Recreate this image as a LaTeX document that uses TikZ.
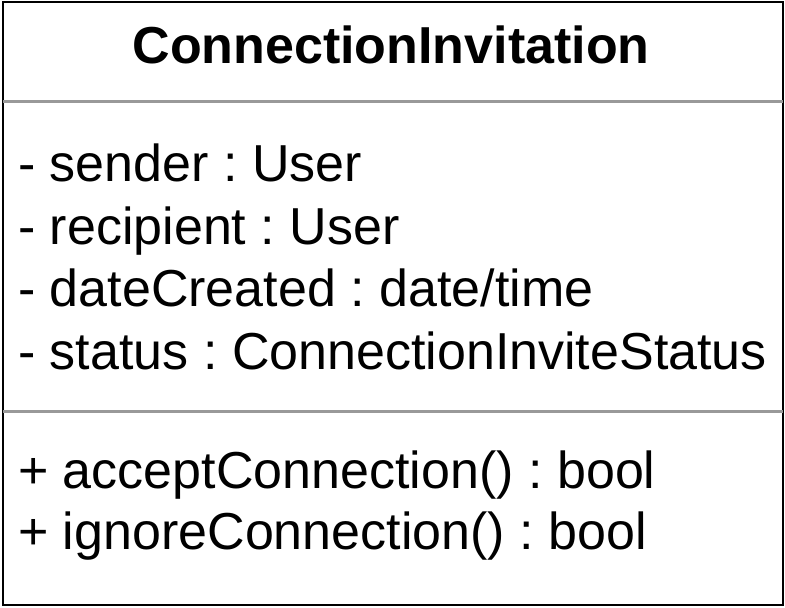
\documentclass[tikz,border=0pt]{standalone}
\usepackage{fontspec}
\setmainfont{Liberation Sans}
\definecolor{sepgray}{HTML}{999999}
\frenchspacing
\begin{document}
\begin{tikzpicture}[x=1pt,y=-1pt]
    \useasboundingbox (0,0) rectangle (785,608);
    \coordinate   (NW)        at (3,1.5);
    \coordinate   (SE)        at (783,605);
    \draw[black,line width=2pt] (NW) rectangle (SE);
    \node[font=\fontsize{52}{62}\selectfont\bfseries,anchor=base,inner sep=0] (title) at (391,63) {ConnectionInvitation};
    \coordinate   (s1w)       at (3,101.5);
    \coordinate   (s1e)       at (783,101.5);
    \coordinate   (s2w)       at (3,411);
    \coordinate   (s2e)       at (783,411);
    \draw[sepgray,line width=3pt] (s1w) -- (s1e);
    \draw[sepgray,line width=3pt] (s2w) -- (s2e);
    \begin{scope}[every node/.style={anchor=base west,inner sep=0,font=\fontsize{52}{62}\selectfont}]
        \node (sender)    at (18,181) {- sender : User};
        \node (recipient) at (18,244) {- recipient : User};
        \node (created)   at (18,306) {- dateCreated : date/time};
        \node (status)    at (18,369) {- status : ConnectionInviteStatus};
        \node (accept)    at (18,488) {+ acceptConnection() : bool};
        \node (ignore)    at (18,549) {+ ignoreConnection() : bool};
    \end{scope}
\end{tikzpicture}
\end{document}
